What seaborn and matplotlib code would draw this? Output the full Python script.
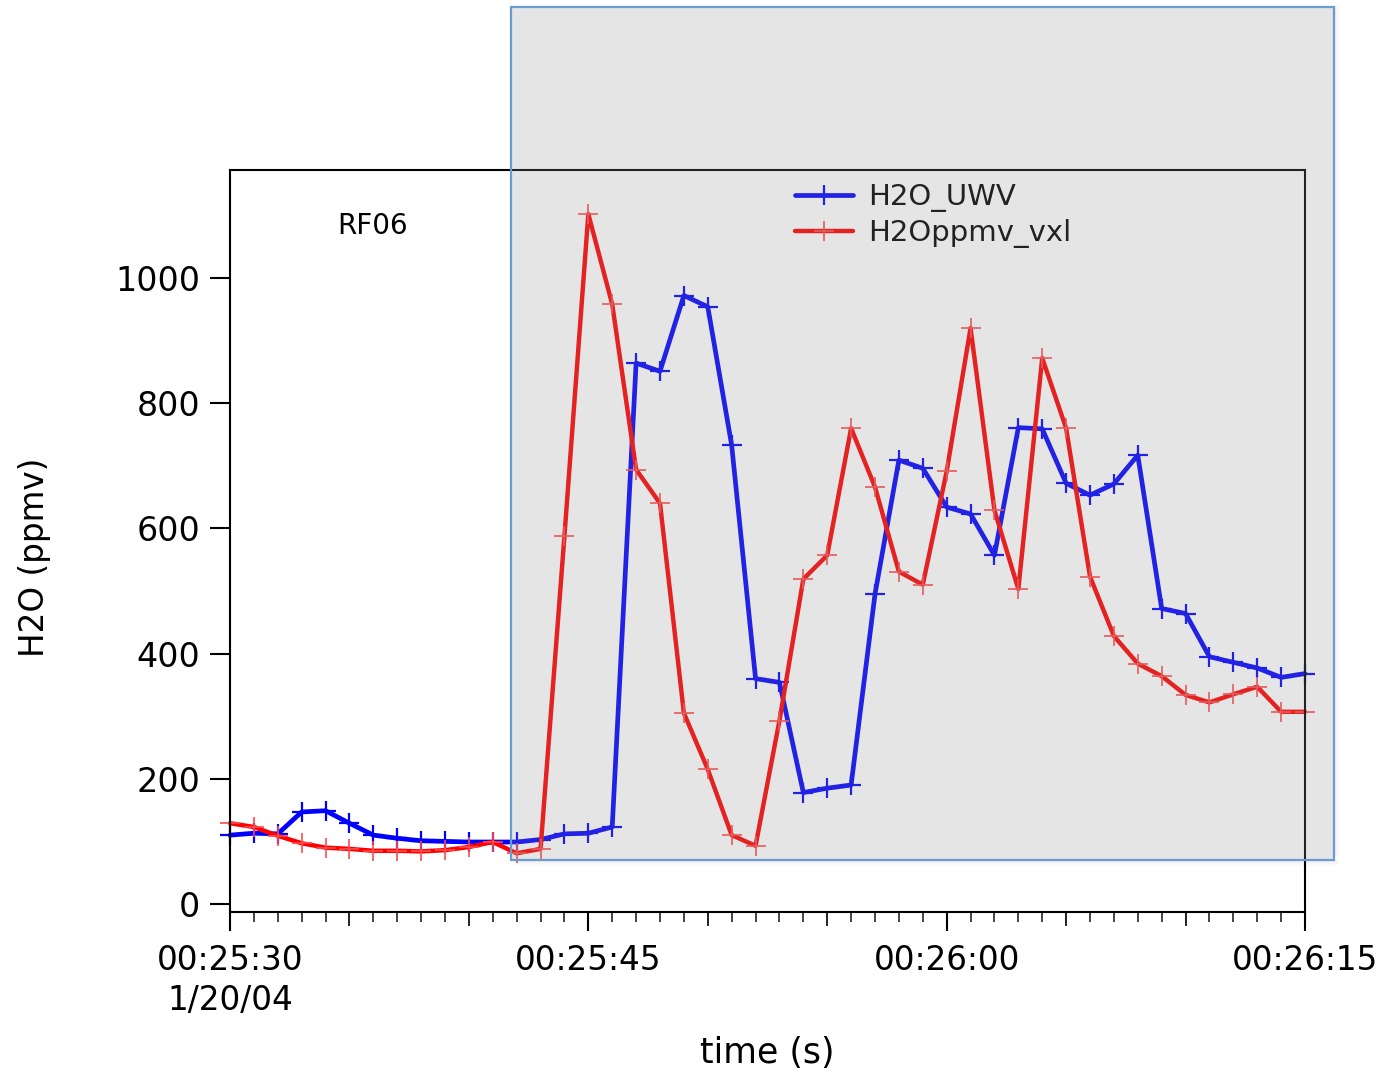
import numpy as np
import pandas as pd
import matplotlib
matplotlib.use("Agg")
import matplotlib.pyplot as plt
from matplotlib.patches import Rectangle
from matplotlib.ticker import NullLocator
import seaborn as sns

# Seconds after 00:25:30 on 1/20/04 (one sample per second)
seconds = np.arange(0, 46)

h2o_uwv = [110, 113, 112, 147, 149, 129, 110, 105, 101, 100,
           99, 99, 99, 103, 112, 113, 123, 864, 851, 972,
           954, 733, 360, 354, 178, 185, 190, 495, 709, 696,
           634, 623, 557, 761, 759, 672, 653, 671, 717, 472,
           464, 395, 386, 377, 362, 368]

h2o_vxl = [129, 123, 109, 97, 90, 88, 85, 85, 84, 86,
           91, 99, 81, 88, 588, 1102, 958, 694, 640, 305,
           215, 110, 93, 293, 519, 557, 760, 666, 531, 510,
           691, 920, 629, 503, 872, 760, 523, 428, 384, 364,
           334, 322, 335, 347, 307, 307]

major_ticks = [0, 15, 30, 45]
major_labels = ["00:25:30\n1/20/04", "00:25:45", "00:26:00", "00:26:15"]
mid_ticks = [5, 10, 20, 25, 35, 40]
y_ticks = [0, 200, 400, 600, 800, 1000]

sns.set_style("white")
plt.rcParams["font.family"] = ["DejaVu Sans"]
plt.rcParams["text.color"] = "black"

W, H = 1389, 1076
fig = plt.figure(figsize=(W / 100, H / 100), dpi=100)
ax = fig.add_axes([230 / W, 1 - 912 / H, 1075 / W, 742 / H])

df = pd.DataFrame({"t": seconds, "H2O_UWV": h2o_uwv, "H2Oppmv_vxl": h2o_vxl})

sns.lineplot(data=df, x="t", y="H2O_UWV", ax=ax, color="#0000ff", lw=3.4,
             marker="+", markersize=14.5, markeredgewidth=1.6,
             markeredgecolor="#0000ff", label="H2O_UWV", errorbar=None,
             clip_on=False)
sns.lineplot(data=df, x="t", y="H2Oppmv_vxl", ax=ax, color="#ff0000", lw=3.2,
             marker="+", markersize=14.5, markeredgewidth=1.2,
             markeredgecolor="#ff4a4a", label="H2Oppmv_vxl", errorbar=None,
             clip_on=False)

ax.set_xlim(0, 45)
ax.set_ylim(-12.8, 1172.5)

ax.set_xticks(major_ticks, labels=major_labels)
ax.set_xticks(seconds, minor=True)
ax.tick_params(axis="x", which="major", length=13.7, width=1.5,
               direction="out", pad=9, labelsize=23.5, colors="black",
               bottom=True)
ax.tick_params(axis="x", which="minor", length=7, width=1.2,
               direction="out", bottom=True)
for lbl in ax.get_xticklabels():
    lbl.set_linespacing(1.3)

sec = ax.secondary_xaxis("bottom")
sec.set_xticks(mid_ticks, labels=[""] * len(mid_ticks))
sec.xaxis.set_minor_locator(NullLocator())
sec.tick_params(length=10, width=1.2, direction="out", colors="black")
sec.spines["bottom"].set_visible(False)

ax.set_yticks(y_ticks)
ax.tick_params(axis="y", length=14.4, width=1.5, direction="out", pad=7,
               labelsize=24, colors="black", left=True)

for s in ax.spines.values():
    s.set_visible(True)
    s.set_color("black")
    s.set_linewidth(1.5)

ax.set_xlabel("")
ax.set_ylabel("")
fig.text(35 / W, 1 - 557 / H, "H2O (ppmv)", rotation=90, ha="center",
         va="center", fontsize=23.5, color="black")
fig.text(767 / W, 1 - 1053 / H, "time (s)", ha="center", va="center",
         fontsize=25, color="black")
fig.text(373 / W, 1 - 226 / H, "RF06", ha="center", va="center", fontsize=20,
         color="black")

leg = ax.legend(loc="upper left", bbox_to_anchor=(795 / W, 1 - 183 / H),
                bbox_transform=fig.transFigure, frameon=False, fontsize=21,
                handlelength=2.0, handletextpad=0.5, labelspacing=0.25,
                borderpad=0, borderaxespad=0)
for txt in leg.get_texts():
    txt.set_color("black")

# Selection box drawn over the plot, with a soft shadow along its lower and right edges
x0, y0, x1, y1 = 511, 7, 1334, 860
bw, bh = (x1 - x0) / W, (y1 - y0) / H
for k, a in enumerate([0.06, 0.04, 0.02]):
    off = 2 * (k + 1)
    fig.add_artist(Rectangle(((x0 + 4) / W, 1 - (y1 + off) / H),
                             (x1 - x0) / W, 2 / H,
                             transform=fig.transFigure, facecolor="black",
                             alpha=a, edgecolor="none", zorder=9))
    fig.add_artist(Rectangle(((x1 + off - 2) / W, 1 - (y1 - 4) / H),
                             2 / W, (y1 - y0 - 4) / H,
                             transform=fig.transFigure, facecolor="black",
                             alpha=a, edgecolor="none", zorder=9))
fig.add_artist(Rectangle((x0 / W, 1 - y1 / H), bw, bh,
                         transform=fig.transFigure,
                         facecolor=(0.58, 0.58, 0.58, 0.235),
                         edgecolor="none", zorder=10))
fig.add_artist(Rectangle((x0 / W, 1 - y1 / H), bw, bh,
                         transform=fig.transFigure, fill=False,
                         edgecolor="#6a9bd3", linewidth=1.6, zorder=11))

fig.savefig("out.png", dpi=100)
